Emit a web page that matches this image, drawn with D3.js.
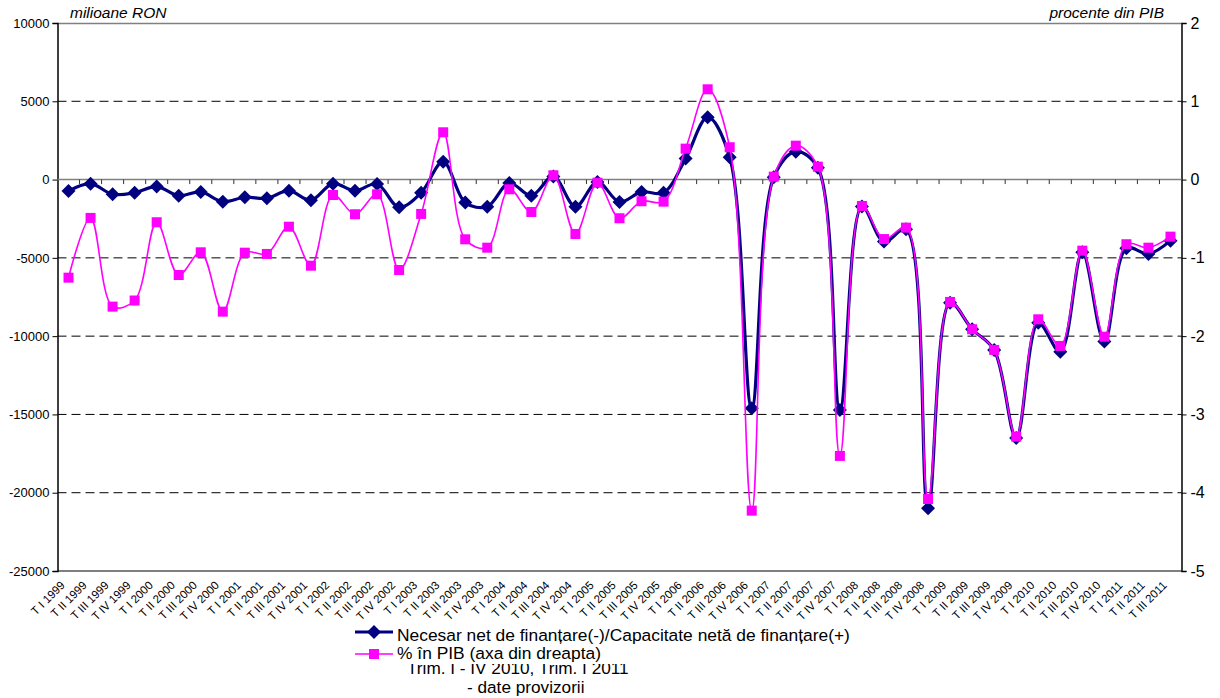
<!DOCTYPE html>
<html><head><meta charset="utf-8">
<script src="https://cdn.jsdelivr.net/npm/d3@7"></script>
<style>body{margin:0;background:#fff;font-family:"Liberation Sans",Arial,sans-serif}</style>
</head><body><svg id="c" width="1220" height="698"></svg>
<script>
const years = [1999,2000,2001,2002,2003,2004,2005,2006,2007,2008,2009,2010,2011];
const quarters = ["I","II","III","IV"];
const categories = [];
years.forEach(y => quarters.forEach(q => { if (!(y === 2011 && q === "IV")) categories.push("T " + q + " " + y); }));

const necesar = [-730,-260,-940,-840,-450,-1030,-790,-1410,-1130,-1190,-710,-1320,
  -260,-710,-280,-1770,-840,1140,-1470,-1730,-220,-1030,190,-1730,
  -150,-1430,-790,-840,1340,3980,1420,-14610,150,1780,750,-14716,
  -1720,-3960,-3180,-20990,-7860,-9560,-10880,-16500,-9140,-10990,-4640,-10350,
  -4390,-4750,-3900];
const procent = [-1.253,-0.490,-1.623,-1.545,-0.545,-1.219,-0.929,-1.687,-0.934,-0.950,-0.602,-1.100,
  -0.197,-0.443,-0.188,-1.155,-0.439,0.604,-0.763,-0.870,-0.124,-0.414,0.055,-0.695,
  -0.040,-0.494,-0.277,-0.282,0.395,1.153,0.413,-4.229,0.037,0.433,0.165,-3.530,
  -0.337,-0.760,-0.614,-4.080,-1.563,-1.912,-2.176,-3.284,-1.785,-2.125,-0.908,-2.007,
  -0.826,-0.870,-0.729];
const leftTicks = [10000,5000,0,-5000,-10000,-15000,-20000,-25000];
const rightTicks = [2,1,0,-1,-2,-3,-4,-5];
const legendLabels = ["Necesar net de finanțare(-)/Capacitate netă de finanțare(+)", "% în PIB (axa din dreapta)"];
const noteLines = ["Trim. I - IV 2010, Trim. I 2011", "- date provizorii"];

const L = 57.5, R = 1181.5, T = 23, B = 571;
const svg = d3.select("#c");
const x = d3.scaleBand().domain(categories).range([L, R]);
const yL = d3.scaleLinear().domain([-25000, 10000]).range([B, T]);
const yR = d3.scaleLinear().domain([-5, 2]).range([B, T]);
const cx = d => x(d) + x.bandwidth() / 2;

// gridlines
svg.append("g").selectAll("line").data(leftTicks.filter(d => d !== 0 && d !== 10000 && d !== -25000)).join("line")
  .attr("x1", L).attr("x2", R).attr("y1", d => yL(d)).attr("y2", d => yL(d))
  .attr("stroke", "#000").attr("stroke-width", 1).attr("stroke-dasharray", "9,5");
svg.append("line").attr("x1", L).attr("x2", R).attr("y1", T + 0.5).attr("y2", T + 0.5).attr("stroke", "#808080").attr("stroke-width", 1.5);
svg.append("line").attr("x1", L).attr("x2", R).attr("y1", B).attr("y2", B).attr("stroke", "#000").attr("stroke-width", 1.2);

// left axis
const axL = svg.append("g").attr("transform", `translate(${L},0)`)
  .call(d3.axisLeft(yL).tickValues(leftTicks).tickFormat(d => String(d)).tickSize(5).tickPadding(3));
axL.select(".domain").attr("stroke", "#000").attr("stroke-width", 1.5);
axL.selectAll("text").attr("font-size", 13).attr("font-family", "Liberation Sans, Arial").attr("fill", "#000");
// right axis
const axR = svg.append("g").attr("transform", `translate(${R},0)`)
  .call(d3.axisRight(yR).tickValues(rightTicks).tickFormat(d => String(d)).tickSize(5).tickPadding(4));
axR.select(".domain").attr("stroke", "#000").attr("stroke-width", 1.5);
axR.selectAll("text").attr("font-size", 16).attr("font-family", "Liberation Sans, Arial").attr("fill", "#000");

// zero axis with category ticks
const zeroY = yL(0);
svg.append("line").attr("x1", L).attr("x2", R).attr("y1", zeroY).attr("y2", zeroY).attr("stroke", "#808080").attr("stroke-width", 1.5);
svg.append("g").selectAll("line").data(d3.range(1, categories.length)).join("line")
  .attr("x1", k => L + k * x.bandwidth()).attr("x2", k => L + k * x.bandwidth())
  .attr("y1", zeroY).attr("y2", zeroY + 4.5).attr("stroke", "#333").attr("stroke-width", 1);

// category labels
svg.append("g").selectAll("text").data(categories).join("text")
  .attr("transform", d => `translate(${cx(d) - 3},${B + 15}) rotate(-45)`)
  .attr("text-anchor", "end").attr("font-size", 11.5).attr("fill", "#000").text(d => d);

// axis titles
svg.append("text").attr("x", 70).attr("y", 18).attr("font-size", 15.5).attr("font-style", "italic").text("milioane RON");
svg.append("text").attr("x", 1164).attr("y", 18).attr("font-size", 15.5).attr("font-style", "italic").attr("text-anchor", "end").text("procente din PIB");

// series
const lineL = d3.line().x((d, i) => cx(categories[i])).y(d => yL(d)).curve(d3.curveCatmullRom.alpha(0.5));
const lineR = d3.line().x((d, i) => cx(categories[i])).y(d => yR(d)).curve(d3.curveCatmullRom.alpha(0.5));
const diamond = (px, py, s) => `M${px},${py - s}L${px + s},${py}L${px},${py + s}L${px - s},${py}Z`;

svg.append("path").attr("d", lineL(necesar)).attr("fill", "none").attr("stroke", "#000080").attr("stroke-width", 3.2);
svg.append("g").selectAll("path").data(necesar).join("path")
  .attr("d", (d, i) => diamond(cx(categories[i]), yL(d), 7)).attr("fill", "#000080");

svg.append("path").attr("d", lineR(procent)).attr("fill", "none").attr("stroke", "#FF00FF").attr("stroke-width", 1.6);
svg.append("g").selectAll("rect").data(procent).join("rect")
  .attr("x", (d, i) => cx(categories[i]) - 5).attr("y", d => yR(d) - 5).attr("width", 10).attr("height", 10).attr("fill", "#FF00FF");

// note (partially covered by legend)
svg.append("text").attr("x", 407).attr("y", 674).attr("font-size", 17.2).text(noteLines[0]);
svg.append("text").attr("x", 467).attr("y", 693).attr("font-size", 17.2).text(noteLines[1]);

// legend
svg.append("rect").attr("x", 350).attr("y", 620).attr("width", 510).attr("height", 44).attr("fill", "#fff");
svg.append("line").attr("x1", 355).attr("x2", 393).attr("y1", 632).attr("y2", 632).attr("stroke", "#000080").attr("stroke-width", 3.2);
svg.append("path").attr("d", diamond(374, 632, 7)).attr("fill", "#000080");
svg.append("text").attr("x", 397).attr("y", 641).attr("font-size", 17.4).text(legendLabels[0]);
svg.append("line").attr("x1", 355).attr("x2", 393).attr("y1", 654).attr("y2", 654).attr("stroke", "#FF00FF").attr("stroke-width", 1.6);
svg.append("rect").attr("x", 369).attr("y", 649).attr("width", 10).attr("height", 10).attr("fill", "#FF00FF");
svg.append("text").attr("x", 397).attr("y", 659).attr("font-size", 17.4).text(legendLabels[1]);
</script></body></html>
